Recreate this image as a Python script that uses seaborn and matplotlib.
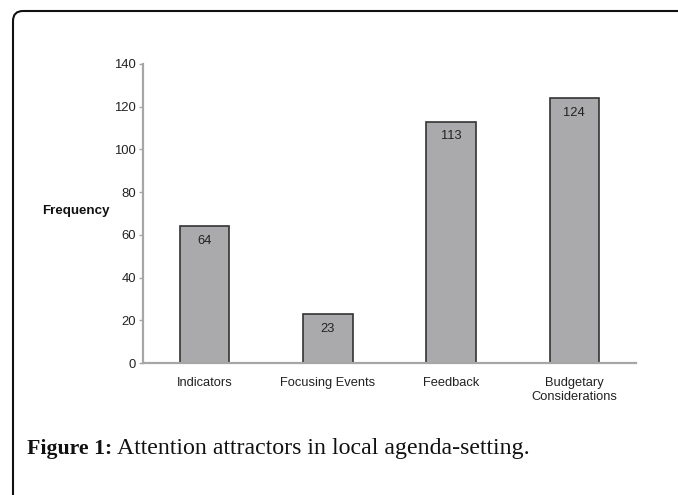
import matplotlib
matplotlib.use("Agg")
import matplotlib.pyplot as plt
import matplotlib.transforms as mtransforms
from matplotlib.patches import FancyBboxPatch
import seaborn as sns
import pandas as pd

categories = ["Indicators", "Focusing Events", "Feedback", "Budgetary\nConsiderations"]
values = [64, 23, 113, 124]
yticks = [0, 20, 40, 60, 80, 100, 120, 140]
ylabel = "Frequency"
caption_bold = "Figure 1:"
caption_rest = "Attention attractors in local agenda-setting."

sns.set_style("white")
plt.rcParams["font.family"] = ["Liberation Sans", "DejaVu Sans"]

W, H = 678, 495
fig = plt.figure(figsize=(W / 100, H / 100), dpi=100)
ax = fig.add_axes([143 / W, 1 - 363 / H, (636 - 143) / W, (363 - 64) / H])

df = pd.DataFrame({"cat": categories, "val": values})
sns.barplot(data=df, x="cat", y="val", color="#aaaaac", edgecolor="#333333",
            linewidth=1.2, width=0.4, saturation=1, ax=ax)
ax.set_xlim(-0.5, 3.5)
ax.set_ylim(0, 140)
ax.set_yticks(yticks)
ax.set_xlabel("")
ax.set_ylabel("")

for s in ["top", "right"]:
    ax.spines[s].set_visible(False)
for s in ["left", "bottom"]:
    ax.spines[s].set_color("#a6a6a6")
    ax.spines[s].set_linewidth(1.6)

ax.tick_params(axis="y", length=3, width=1, color="#a6a6a6", direction="out",
               labelsize=9.4, labelcolor="#222222", pad=2, left=True)
ax.tick_params(axis="x", length=0, labelsize=9.3, labelcolor="#222222", pad=10)

ax.bar_label(ax.containers[0], labels=[str(v) for v in values], padding=-15,
             fontsize=9.3, color="#222222")

fig.text(110 / W, 1 - 211 / H, ylabel, ha="right", va="center",
         fontsize=9.6, fontweight="bold", color="#111111")

# caption
serif = ["Liberation Serif", "DejaVu Serif"]
fig.text(27 / W, 1 - 454 / H, caption_bold, ha="left", va="baseline",
         fontsize=15.7, fontweight="bold", family=serif, color="#111111")
fig.text(117 / W, 1 - 454 / H, caption_rest, ha="left", va="baseline",
         fontsize=17.2, family=serif, color="#111111")

# rounded border (clipped at right and bottom)
box = FancyBboxPatch((13, -30), 720, 495 - 11 + 30,
                     boxstyle="round,pad=0,rounding_size=10",
                     transform=mtransforms.IdentityTransform(),
                     fill=False, edgecolor="#111111", linewidth=1.5)
fig.patches.append(box)

fig.savefig("out.png", dpi=100)
